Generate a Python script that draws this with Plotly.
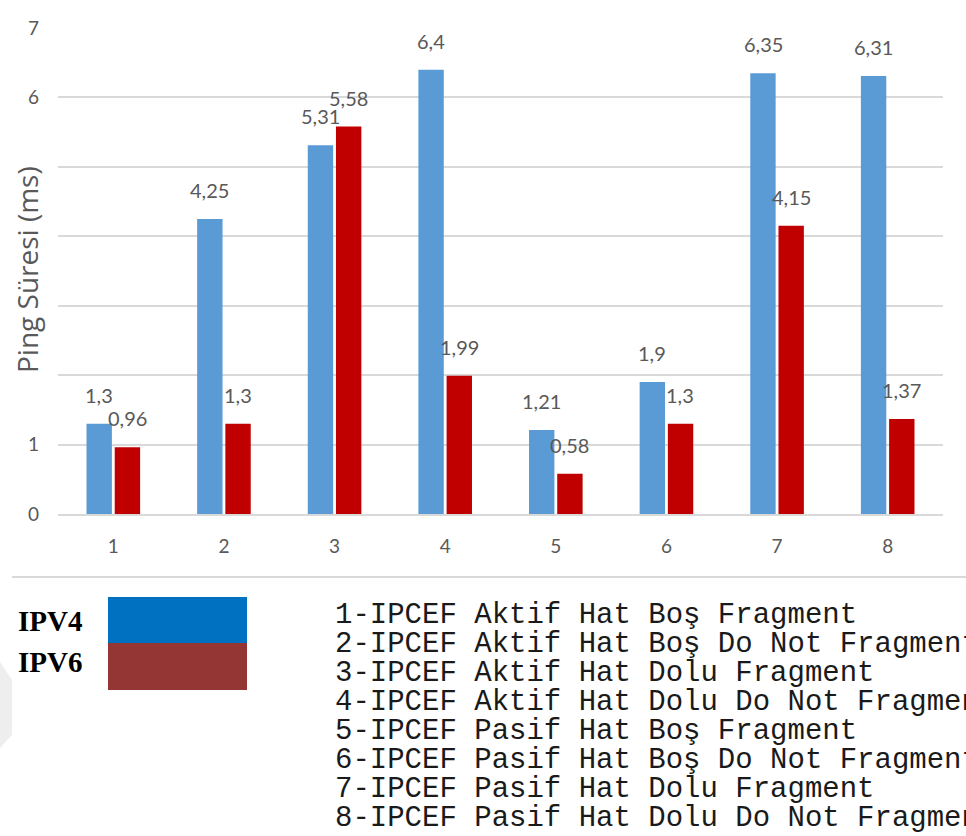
import plotly.graph_objects as go

# Test cases 1..8 and ping times (ms)
categories = ["1", "2", "3", "4", "5", "6", "7", "8"]
ipv4_ms = [1.3, 4.25, 5.31, 6.4, 1.21, 1.9, 6.35, 6.31]
ipv6_ms = [0.96, 1.3, 5.58, 1.99, 0.58, 1.3, 4.15, 1.37]
y_tick_vals = [0, 1, 2, 3, 4, 5, 6, 7]
y_tick_text = ["0", "1", "", "", "", "", "6", "7"]
series_names = ["IPV4", "IPV6"]
y_title = "Ping Süresi (ms)"
case_names = [
    "1-IPCEF Aktif Hat Boş Fragment",
    "2-IPCEF Aktif Hat Boş Do Not Fragment",
    "3-IPCEF Aktif Hat Dolu Fragment",
    "4-IPCEF Aktif Hat Dolu Do Not Fragment",
    "5-IPCEF Pasif Hat Boş Fragment",
    "6-IPCEF Pasif Hat Boş Do Not Fragment",
    "7-IPCEF Pasif Hat Dolu Fragment",
    "8-IPCEF Pasif Hat Dolu Do Not Fragment",
]

W, H = 966, 836
BAR_BLUE = "#5B9BD5"
BAR_RED = "#C00000"
LABEL_GRAY = "#595959"
SANS = "Lato, Open Sans, sans-serif"


def px_x(p):
    return p / W


def px_y(p):
    return 1 - p / H


def fmt(v):
    return f"{v:g}".replace(".", ",")


fig = go.Figure()
fig.add_trace(go.Bar(x=categories, y=ipv4_ms, name=series_names[0],
                     marker=dict(color=BAR_BLUE, line=dict(width=0))))
fig.add_trace(go.Bar(x=categories, y=ipv6_ms, name=series_names[1],
                     marker=dict(color=BAR_RED, line=dict(width=0))))

annotations = []
# value labels above each bar (decimal comma); x is the category index
for vals, shift in ((ipv4_ms, -14), (ipv6_ms, 14)):
    for i, v in enumerate(vals):
        annotations.append(dict(
            x=i, y=v, xref="x", yref="y", text=fmt(v), showarrow=False,
            xshift=shift, yshift=15, yanchor="bottom",
            font=dict(family=SANS, size=20, color=LABEL_GRAY),
        ))

# y axis title
annotations.append(dict(x=px_x(27), y=px_y(270), xref="paper", yref="paper",
                        text=y_title, textangle=-90, showarrow=False,
                        xanchor="center", yanchor="middle",
                        font=dict(family="Open Sans, sans-serif", size=28, color=LABEL_GRAY)))

# legend: series names next to colour blocks
for name, ypx in zip(series_names, (621, 662)):
    annotations.append(dict(x=px_x(16), y=px_y(ypx), xref="paper", yref="paper",
                            text="<b>" + name + "</b>", showarrow=False,
                            xanchor="left", yanchor="middle",
                            font=dict(family="Liberation Serif, Times New Roman, serif",
                                      size=29, color="#000000")))

# case descriptions
for i, name in enumerate(case_names):
    annotations.append(dict(x=px_x(333), y=px_y(615 + i * 29.1), xref="paper", yref="paper",
                            text=name, showarrow=False, xanchor="left", yanchor="middle",
                            font=dict(family="Liberation Mono, DejaVu Sans Mono, monospace",
                                      size=29, color="#1a1a1a")))

shapes = [
    # faint wedge at the left edge
    dict(type="path", xref="paper", yref="paper",
         path=f"M 0 {px_y(662)} L {px_x(12)} {px_y(680)} L {px_x(12)} {px_y(735)} L 0 {px_y(748)} Z",
         fillcolor="#EEEEEE", line=dict(width=0), layer="below"),
    # separator line under the chart
    dict(type="line", xref="paper", yref="paper", x0=px_x(12), x1=1, y0=px_y(577), y1=px_y(577),
         line=dict(color="#D9D9D9", width=2)),
    # colour blocks of the legend
    dict(type="rect", xref="paper", yref="paper", x0=px_x(108), x1=px_x(247),
         y0=px_y(643), y1=px_y(597), fillcolor="#0070C0", line=dict(width=0)),
    dict(type="rect", xref="paper", yref="paper", x0=px_x(108), x1=px_x(247),
         y0=px_y(690), y1=px_y(643), fillcolor="#943634", line=dict(width=0)),
]

fig.update_layout(
    width=W, height=H,
    margin=dict(l=0, r=0, t=0, b=0, autoexpand=False),
    paper_bgcolor="white", plot_bgcolor="white",
    barmode="group", bargap=0.49, bargroupgap=0.1,
    showlegend=False,
    annotations=annotations,
    shapes=shapes,
    xaxis=dict(domain=[px_x(58), px_x(943)], type="category", range=[-0.5, 7.5],
               automargin=False,
               showgrid=False, showline=True, linecolor="#D9D9D9", linewidth=2,
               ticks="", ticklabelstandoff=14,
               tickfont=dict(family=SANS, size=19, color=LABEL_GRAY)),
    yaxis=dict(domain=[px_y(514), px_y(28)], range=[0, 7], automargin=False,
               tickvals=y_tick_vals, ticktext=y_tick_text,
               showgrid=True, gridcolor="#D9D9D9", gridwidth=2, zeroline=False,
               ticks="", ticklabelstandoff=18,
               tickfont=dict(family=SANS, size=19, color=LABEL_GRAY)),
)

fig.write_html("out.html")
